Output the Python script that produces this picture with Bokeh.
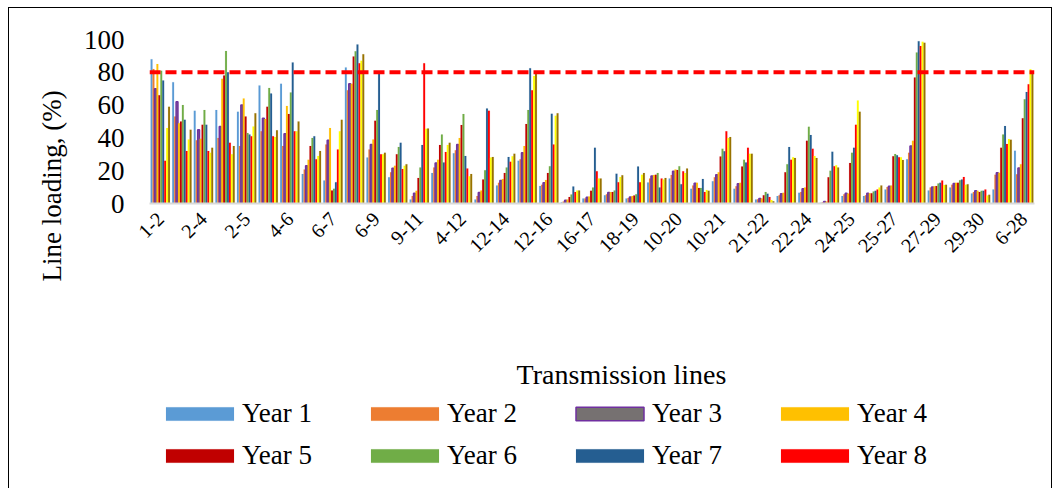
from math import pi
from bokeh.plotting import figure
from bokeh.layouts import column
from bokeh.models import Range1d, FixedTicker, Span, Legend, LegendItem, ColumnDataSource, Label, Title
from bokeh.transform import dodge
from bokeh.embed import file_html
from bokeh.resources import INLINE

lines = ["1-2", "1-3", "2-4", "3-4", "2-5", "2-6", "4-6", "5-7", "6-7", "6-8",
         "6-9", "6-10", "9-11", "9-10", "4-12", "12-13", "12-14", "12-15", "12-16", "14-15",
         "16-17", "15-18", "18-19", "19-20", "10-20", "10-17", "10-21", "10-22", "21-22", "15-23",
         "22-24", "23-24", "24-25", "25-26", "25-27", "28-27", "27-29", "27-30", "29-30", "8-28",
         "6-28"]

year1 = [88, 74, 56.5, 57, 56, 72, 73, 18, 14, 83, 28, 16, 2.4, 18.6, 30.6, 2.4, 11, 26, 10.7, 0.8,
         3, 5, 3, 12.8, 15.2, 9, 13.6, 9, 2.4, 4.5, 6.5, 0.4, 4.5, 4.5, 8.5, 27, 7.9, 9.7, 6.1, 8.5, 32.2]
year2 = [82, 53, 38.5, 40, 35, 44, 35, 20.7, 36, 69, 33, 19, 4.5, 22, 32.4, 4.5, 12.6, 27, 11.5, 1.2,
         3, 5.7, 3.4, 15.2, 17.4, 11, 16, 10.5, 2.6, 5, 7, 0.8, 5.7, 5, 10, 31, 9.7, 11.5, 7, 17.6, 17.8]
year3 = [70, 62, 45, 47, 60, 52, 42.5, 23, 38.5, 73, 36, 21.5, 6.3, 24.7, 35.9, 6.7, 14, 31, 12.6, 2,
         3.8, 6.7, 4, 16.8, 19.7, 12.4, 17.6, 12, 3, 5.9, 9, 1.2, 6.3, 6.3, 10.5, 35, 10, 12.2, 7.7, 18.8, 21.7]
year4 = [85, 49, 39.5, 76, 64, 51.5, 59.5, 26.7, 46, 73, 39, 23, 7.7, 26.7, 40, 7.9, 15, 35, 14.4, 2.4,
         4.3, 7, 4.5, 17.4, 20.7, 12.6, 19, 12.6, 3, 6.5, 9.7, 1.2, 6.1, 6.3, 11, 38.3, 10.5, 12.6, 7.7, 18.8, 24]
year5 = [66, 50, 48, 78, 53, 59, 54.5, 35, 8, 89.6, 50.5, 30, 15.6, 35.7, 47.8, 14.6, 18.6, 48.4, 18.6, 4,
         7.7, 7, 4.9, 17.6, 20.5, 9.5, 28.6, 22.5, 5, 19, 38.3, 16, 24.7, 6.3, 28.8, 76.8, 10.7, 12.6, 7, 34, 52]
year6 = [81, 60, 57, 93, 43, 70.5, 67.7, 40, 9, 92.8, 57, 34.5, 22, 42, 54.5, 20.3, 22, 57, 22.7, 5.5,
         9.7, 7.9, 5.7, 18.6, 22.7, 9.5, 33.4, 26.7, 7, 24, 46.8, 20, 31, 7.3, 30.2, 92, 12.2, 14.2, 7.7, 42, 63.6]
year7 = [75, 51, 48, 80, 42, 67, 86, 41, 13, 97, 79.4, 37, 35.7, 25, 29, 58, 28.4, 82.5, 54.7, 10.3,
         34, 18.2, 22.5, 9.7, 11.8, 15, 31.8, 25, 6, 34.4, 41.7, 31.6, 34, 7.7, 29.4, 99, 12.6, 14.6, 7.7, 47.2, 68]
year8 = [26, 32, 32, 37, 41, 41, 44, 27, 33, 85.5, 30, 21, 85.5, 31.4, 21.3, 56.5, 25.5, 69, 36, 7,
         19.7, 13, 13, 15.2, 19.7, 7, 44, 34, 4, 26.7, 33.4, 22.7, 48, 8.5, 28.2, 96, 14, 16.2, 8.5, 36.3, 72.7]
year9 = [46, 39, 31, 30, 47, 40.5, 44, 29, 44, 87, 30, 23, 45.6, 35.7, 16.6, 28, 28.8, 77.8, 53.5, 7.9,
         15.2, 16.2, 17.6, 14.6, 18.6, 8.3, 40, 30.4, 2.2, 28.2, 29, 23.3, 62.8, 9.7, 28.2, 98.7, 11.3, 11.5, 4.9, 39.3, 81.9]
year10 = [59, 45, 34, 35, 55, 44.6, 50, 32, 51, 91, 31, 24, 45.8, 37, 18, 28.4, 30.4, 80, 55, 7.9,
          15.2, 17.2, 18.6, 15.6, 21.3, 7.7, 40.5, 30.4, 1.4, 27.8, 27.8, 21.9, 56, 11, 26.5, 98, 11.5, 11.8, 5.3, 38.9, 80.4]

series_names = ["Year 1", "Year 2", "Year 3", "Year 4", "Year 5", "Year 6", "Year 7", "Year 8", "Year 9", "Year 10"]
series_values = [year1, year2, year3, year4, year5, year6, year7, year8, year9, year10]
fill_colors = ["#5B9BD5", "#ED7D31", "#767171", "#FFC000", "#C00000", "#70AD47", "#255E91", "#FF0000", "#FFFF00", "#997300"]
line_colors = [None, None, "#7030A0", None, None, None, None, None, None, None]
limit = 80
y_ticks = [0, 20, 40, 60, 80, 100]
x_title = "Transmission lines"
y_title = "Line loading, (%)"

FONT = "Liberation Serif"

data = {"x": list(range(len(lines)))}
for i, vals in enumerate(series_values):
    data["y%d" % i] = vals
src = ColumnDataSource(data)

W = 1042
p = figure(width=W, height=333, output_backend="svg", toolbar_location=None,
           x_range=Range1d(-0.5, len(lines) - 0.5), y_range=Range1d(0, 100),
           min_border_left=140, min_border_right=17, min_border_top=31, min_border_bottom=138)
p.outline_line_color = None
p.xgrid.visible = False
p.ygrid.visible = False

n = len(series_values)
bw = 0.086


def add_bars(fig):
    rs = []
    for i in range(n):
        off = (i - (n - 1) / 2) * 0.09
        lc = line_colors[i]
        r = fig.vbar(x=dodge("x", off, range=fig.x_range), top="y%d" % i, bottom=0, width=bw, source=src,
                     fill_color=fill_colors[i], line_color=lc if lc else fill_colors[i],
                     line_width=1.5 if lc else 0.1)
        rs.append(r)
    return rs


add_bars(p)
p.add_layout(Span(location=limit, dimension="width", line_color="#FF0000", line_width=4, line_dash="11 5"))

# axes
p.xaxis.ticker = FixedTicker(ticks=list(range(0, len(lines), 2)))
p.xaxis.major_label_overrides = {i: lines[i] for i in range(0, len(lines), 2)}
p.xaxis.major_label_orientation = pi / 4
p.xaxis.major_label_text_font = FONT
p.xaxis.major_label_text_font_size = "20px"
p.xaxis.major_label_text_color = "black"
p.xaxis.axis_line_color = "#D9D9D9"
p.xaxis.axis_line_width = 2
p.xaxis.major_tick_line_color = None
p.xaxis.minor_tick_line_color = None
p.xaxis.major_label_standoff = 6

p.yaxis.ticker = FixedTicker(ticks=y_ticks)
p.yaxis.axis_line_color = None
p.yaxis.major_tick_line_color = None
p.yaxis.minor_tick_line_color = None
p.yaxis.major_tick_out = 0
p.yaxis.major_tick_in = 0
p.yaxis.major_label_text_font = FONT
p.yaxis.major_label_text_font_size = "27px"
p.yaxis.major_label_text_color = "black"
p.yaxis.major_label_standoff = 25

# y title, placed lower than the frame centre as in the original
p.add_layout(Title(text=y_title, align="left", offset=-78, vertical_align="bottom", standoff=28,
                   text_font=FONT, text_font_size="27px", text_font_style="normal",
                   text_color="black"), "left")

# legend + x title figure (bars far outside its visible ranges, only the legend shows)
q = figure(width=W, height=148, output_backend="svg", toolbar_location=None,
           x_range=Range1d(1000, 1001), y_range=Range1d(1000, 1001),
           min_border=0)
q.axis.visible = False
q.grid.visible = False
q.outline_line_color = None
leg_r = add_bars(q)
legend = Legend(items=[LegendItem(label=series_names[i], renderers=[leg_r[i]]) for i in range(8)],
                orientation="horizontal", ncols=4, location=(8, 18),
                glyph_width=85, glyph_height=17, label_standoff=0, spacing=11, label_width=109,
                label_text_font=FONT, label_text_font_size="27px", label_text_color="black",
                border_line_color=None, background_fill_alpha=0, padding=0, margin=0)
q.add_layout(legend, "center")
q.add_layout(Label(x=472, y=115, x_units="screen", y_units="screen", text=x_title,
                   text_align="center", text_baseline="middle", text_font=FONT,
                   text_font_size="28px", text_color="black"))

layout = column(p, q, spacing=0, margin=(7, 7, 0, 8),
                styles={"border": "1.5px solid black"})

open("out.html", "w").write(file_html(layout, INLINE))
